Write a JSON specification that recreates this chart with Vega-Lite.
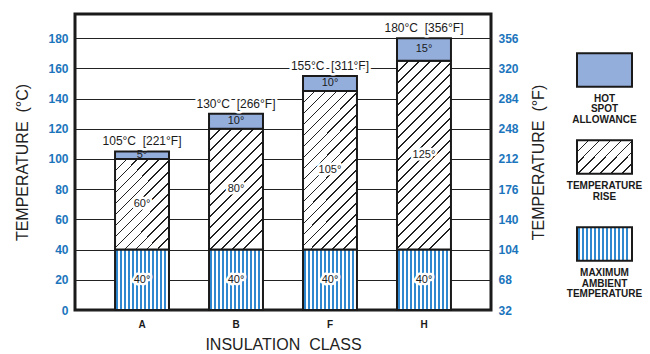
{
  "$schema": "https://vega.github.io/schema/vega-lite/v6.json",
  "background": "white",
  "padding": {"left": 13, "top": 12, "right": 5, "bottom": 0},
  "spacing": 18,
  "config": {
    "font": "Liberation Sans",
    "view": {"stroke": null},
    "text": {"font": "Liberation Sans", "color": "#1a1a1a"}
  },
  "datasets": {
    "segs": [
      {"cls": "A", "seg": "ambient", "lo": 0, "hi": 40, "label": "40°"},
      {"cls": "A", "seg": "rise", "lo": 40, "hi": 100, "label": "60°"},
      {"cls": "A", "seg": "hot", "lo": 100, "hi": 105, "label": "5°"},
      {"cls": "B", "seg": "ambient", "lo": 0, "hi": 40, "label": "40°"},
      {"cls": "B", "seg": "rise", "lo": 40, "hi": 120, "label": "80°"},
      {"cls": "B", "seg": "hot", "lo": 120, "hi": 130, "label": "10°"},
      {"cls": "F", "seg": "ambient", "lo": 0, "hi": 40, "label": "40°"},
      {"cls": "F", "seg": "rise", "lo": 40, "hi": 145, "label": "105°"},
      {"cls": "F", "seg": "hot", "lo": 145, "hi": 155, "label": "10°"},
      {"cls": "H", "seg": "ambient", "lo": 0, "hi": 40, "label": "40°"},
      {"cls": "H", "seg": "rise", "lo": 40, "hi": 165, "label": "125°"},
      {"cls": "H", "seg": "hot", "lo": 165, "hi": 180, "label": "15°"}
    ],
    "tops": [
      {"cls": "A", "total": 105, "label": "105°C\u00a0 [221°F]"},
      {"cls": "B", "total": 130, "label": "130°C\u00a0 [266°F]"},
      {"cls": "F", "total": 155, "label": "155°C\u00a0 [311°F]"},
      {"cls": "H", "total": 180, "label": "180°C\u00a0 [356°F]"}
    ],
    "legend": [
      {"item": "hot", "label": "HOT\nSPOT\nALLOWANCE"},
      {"item": "rise", "label": "TEMPERATURE\nRISE"},
      {"item": "ambient", "label": "MAXIMUM\nAMBIENT\nTEMPERATURE"}
    ]
  },
  "hconcat": [
    {
      "width": 416,
      "height": 296,
      "view": {"stroke": "#1a1a1a", "strokeWidth": 3},
      "resolve": {"axis": {"y": "independent"}},
      "layer": [
        {
          "data": {"name": "segs"},
          "transform": [{"filter": "datum.seg === 'ambient'"}],
          "mark": {"type": "rect", "stroke": "#1a1a1a", "strokeWidth": 2,
            "fill": {"gradient": "linear", "x1": 0, "y1": 0, "x2": 1, "y2": 0, "stops": [
              {"offset": 0.0185, "color": "#fff"}, {"offset": 0.0185, "color": "#3088d0"}, {"offset": 0.0482, "color": "#3088d0"}, {"offset": 0.0482, "color": "#fff"},
              {"offset": 0.0926, "color": "#fff"}, {"offset": 0.0926, "color": "#3088d0"}, {"offset": 0.1223, "color": "#3088d0"}, {"offset": 0.1223, "color": "#fff"},
              {"offset": 0.1668, "color": "#fff"}, {"offset": 0.1668, "color": "#3088d0"}, {"offset": 0.1965, "color": "#3088d0"}, {"offset": 0.1965, "color": "#fff"},
              {"offset": 0.2409, "color": "#fff"}, {"offset": 0.2409, "color": "#3088d0"}, {"offset": 0.2706, "color": "#3088d0"}, {"offset": 0.2706, "color": "#fff"},
              {"offset": 0.3151, "color": "#fff"}, {"offset": 0.3151, "color": "#3088d0"}, {"offset": 0.3448, "color": "#3088d0"}, {"offset": 0.3448, "color": "#fff"},
              {"offset": 0.3892, "color": "#fff"}, {"offset": 0.3892, "color": "#3088d0"}, {"offset": 0.4189, "color": "#3088d0"}, {"offset": 0.4189, "color": "#fff"},
              {"offset": 0.4633, "color": "#fff"}, {"offset": 0.4633, "color": "#3088d0"}, {"offset": 0.4930, "color": "#3088d0"}, {"offset": 0.4930, "color": "#fff"},
              {"offset": 0.5375, "color": "#fff"}, {"offset": 0.5375, "color": "#3088d0"}, {"offset": 0.5672, "color": "#3088d0"}, {"offset": 0.5672, "color": "#fff"},
              {"offset": 0.6116, "color": "#fff"}, {"offset": 0.6116, "color": "#3088d0"}, {"offset": 0.6413, "color": "#3088d0"}, {"offset": 0.6413, "color": "#fff"},
              {"offset": 0.6858, "color": "#fff"}, {"offset": 0.6858, "color": "#3088d0"}, {"offset": 0.7155, "color": "#3088d0"}, {"offset": 0.7155, "color": "#fff"},
              {"offset": 0.7599, "color": "#fff"}, {"offset": 0.7599, "color": "#3088d0"}, {"offset": 0.7896, "color": "#3088d0"}, {"offset": 0.7896, "color": "#fff"},
              {"offset": 0.8340, "color": "#fff"}, {"offset": 0.8340, "color": "#3088d0"}, {"offset": 0.8637, "color": "#3088d0"}, {"offset": 0.8637, "color": "#fff"},
              {"offset": 0.9082, "color": "#fff"}, {"offset": 0.9082, "color": "#3088d0"}, {"offset": 0.9379, "color": "#3088d0"}, {"offset": 0.9379, "color": "#fff"}
            ]}},
          "encoding": {
            "x": {"field": "cls", "type": "nominal", "sort": ["A", "B", "F", "H"],
              "scale": {"paddingInner": 0.426, "paddingOuter": 0.426},
              "axis": {"title": "INSULATION\u00a0 CLASS", "labelAngle": 0, "ticks": false, "domain": false,
                "labelFontWeight": "bold", "labelFontSize": 10, "labelColor": "#1a1a1a", "labelPadding": 9,
                "titleFontSize": 16, "titleFontWeight": "normal", "titleColor": "#222", "titlePadding": 7}},
            "y": {"field": "lo", "type": "quantitative", "scale": {"domain": [0, 196], "nice": false},
              "axis": {"orient": "left", "values": [0, 20, 40, 60, 80, 100, 120, 140, 160, 180],
                "title": "TEMPERATURE\u00a0 (°C)", "grid": true, "gridColor": "#222", "gridWidth": 1,
                "ticks": false, "domain": false, "labelColor": "#1b75bc", "labelFontWeight": "bold",
                "labelFontSize": 12, "labelPadding": 7, "titleFontSize": 16, "titleFontWeight": "normal",
                "titleColor": "#222", "titlePadding": 17}},
            "y2": {"field": "hi"}
          }
        },
        {
          "data": {"name": "segs"},
          "transform": [{"filter": "datum.seg === 'rise' && datum.cls === 'A'"}],
          "mark": {"type": "rect", "stroke": "#1a1a1a", "strokeWidth": 2,
            "fill": {"gradient": "linear", "x1": 0, "y1": 0, "x2": 0.7019, "y2": 1.1777, "stops": [
              {"offset": 0.0761, "color": "#fff"}, {"offset": 0.0761, "color": "#222"}, {"offset": 0.0865, "color": "#222"}, {"offset": 0.0865, "color": "#fff"},
              {"offset": 0.1521, "color": "#fff"}, {"offset": 0.1521, "color": "#222"}, {"offset": 0.1625, "color": "#222"}, {"offset": 0.1625, "color": "#fff"},
              {"offset": 0.2282, "color": "#fff"}, {"offset": 0.2282, "color": "#222"}, {"offset": 0.2386, "color": "#222"}, {"offset": 0.2386, "color": "#fff"},
              {"offset": 0.3043, "color": "#fff"}, {"offset": 0.3043, "color": "#222"}, {"offset": 0.3147, "color": "#222"}, {"offset": 0.3147, "color": "#fff"},
              {"offset": 0.3804, "color": "#fff"}, {"offset": 0.3804, "color": "#222"}, {"offset": 0.3908, "color": "#222"}, {"offset": 0.3908, "color": "#fff"},
              {"offset": 0.4564, "color": "#fff"}, {"offset": 0.4564, "color": "#222"}, {"offset": 0.4668, "color": "#222"}, {"offset": 0.4668, "color": "#fff"},
              {"offset": 0.5325, "color": "#fff"}, {"offset": 0.5325, "color": "#222"}, {"offset": 0.5429, "color": "#222"}, {"offset": 0.5429, "color": "#fff"},
              {"offset": 0.6086, "color": "#fff"}, {"offset": 0.6086, "color": "#222"}, {"offset": 0.6190, "color": "#222"}, {"offset": 0.6190, "color": "#fff"},
              {"offset": 0.6846, "color": "#fff"}, {"offset": 0.6846, "color": "#222"}, {"offset": 0.6950, "color": "#222"}, {"offset": 0.6950, "color": "#fff"},
              {"offset": 0.7607, "color": "#fff"}, {"offset": 0.7607, "color": "#222"}, {"offset": 0.7711, "color": "#222"}, {"offset": 0.7711, "color": "#fff"},
              {"offset": 0.8368, "color": "#fff"}, {"offset": 0.8368, "color": "#222"}, {"offset": 0.8472, "color": "#222"}, {"offset": 0.8472, "color": "#fff"},
              {"offset": 0.9129, "color": "#fff"}, {"offset": 0.9129, "color": "#222"}, {"offset": 0.9233, "color": "#222"}, {"offset": 0.9233, "color": "#fff"}
            ]}},
          "encoding": {
            "x": {"field": "cls", "type": "nominal", "sort": ["A", "B", "F", "H"]},
            "y": {"field": "lo", "type": "quantitative", "axis": null},
            "y2": {"field": "hi"}
          }
        },
        {
          "data": {"name": "segs"},
          "transform": [{"filter": "datum.seg === 'rise' && datum.cls === 'B'"}],
          "mark": {"type": "rect", "stroke": "#1a1a1a", "strokeWidth": 2,
            "fill": {"gradient": "linear", "x1": 0, "y1": 0, "x2": 0.5391, "y2": 1.2060, "stops": [
              {"offset": 0.0629, "color": "#fff"}, {"offset": 0.0629, "color": "#222"}, {"offset": 0.0715, "color": "#222"}, {"offset": 0.0715, "color": "#fff"},
              {"offset": 0.1259, "color": "#fff"}, {"offset": 0.1259, "color": "#222"}, {"offset": 0.1345, "color": "#222"}, {"offset": 0.1345, "color": "#fff"},
              {"offset": 0.1888, "color": "#fff"}, {"offset": 0.1888, "color": "#222"}, {"offset": 0.1974, "color": "#222"}, {"offset": 0.1974, "color": "#fff"},
              {"offset": 0.2517, "color": "#fff"}, {"offset": 0.2517, "color": "#222"}, {"offset": 0.2603, "color": "#222"}, {"offset": 0.2603, "color": "#fff"},
              {"offset": 0.3146, "color": "#fff"}, {"offset": 0.3146, "color": "#222"}, {"offset": 0.3232, "color": "#222"}, {"offset": 0.3232, "color": "#fff"},
              {"offset": 0.3776, "color": "#fff"}, {"offset": 0.3776, "color": "#222"}, {"offset": 0.3862, "color": "#222"}, {"offset": 0.3862, "color": "#fff"},
              {"offset": 0.4405, "color": "#fff"}, {"offset": 0.4405, "color": "#222"}, {"offset": 0.4491, "color": "#222"}, {"offset": 0.4491, "color": "#fff"},
              {"offset": 0.5034, "color": "#fff"}, {"offset": 0.5034, "color": "#222"}, {"offset": 0.5120, "color": "#222"}, {"offset": 0.5120, "color": "#fff"},
              {"offset": 0.5664, "color": "#fff"}, {"offset": 0.5664, "color": "#222"}, {"offset": 0.5750, "color": "#222"}, {"offset": 0.5750, "color": "#fff"},
              {"offset": 0.6293, "color": "#fff"}, {"offset": 0.6293, "color": "#222"}, {"offset": 0.6379, "color": "#222"}, {"offset": 0.6379, "color": "#fff"},
              {"offset": 0.6922, "color": "#fff"}, {"offset": 0.6922, "color": "#222"}, {"offset": 0.7008, "color": "#222"}, {"offset": 0.7008, "color": "#fff"},
              {"offset": 0.7551, "color": "#fff"}, {"offset": 0.7551, "color": "#222"}, {"offset": 0.7637, "color": "#222"}, {"offset": 0.7637, "color": "#fff"},
              {"offset": 0.8181, "color": "#fff"}, {"offset": 0.8181, "color": "#222"}, {"offset": 0.8267, "color": "#222"}, {"offset": 0.8267, "color": "#fff"},
              {"offset": 0.8810, "color": "#fff"}, {"offset": 0.8810, "color": "#222"}, {"offset": 0.8896, "color": "#222"}, {"offset": 0.8896, "color": "#fff"}
            ]}},
          "encoding": {
            "x": {"field": "cls", "type": "nominal", "sort": ["A", "B", "F", "H"]},
            "y": {"field": "lo", "type": "quantitative", "axis": null},
            "y2": {"field": "hi"}
          }
        },
        {
          "data": {"name": "segs"},
          "transform": [{"filter": "datum.seg === 'rise' && datum.cls === 'F'"}],
          "mark": {"type": "rect", "stroke": "#1a1a1a", "strokeWidth": 2,
            "fill": {"gradient": "linear", "x1": 0, "y1": 0, "x2": 0.4090, "y2": 1.2012, "stops": [
              {"offset": 0.0517, "color": "#fff"}, {"offset": 0.0517, "color": "#222"}, {"offset": 0.0588, "color": "#222"}, {"offset": 0.0588, "color": "#fff"},
              {"offset": 0.1035, "color": "#fff"}, {"offset": 0.1035, "color": "#222"}, {"offset": 0.1106, "color": "#222"}, {"offset": 0.1106, "color": "#fff"},
              {"offset": 0.1552, "color": "#fff"}, {"offset": 0.1552, "color": "#222"}, {"offset": 0.1623, "color": "#222"}, {"offset": 0.1623, "color": "#fff"},
              {"offset": 0.2070, "color": "#fff"}, {"offset": 0.2070, "color": "#222"}, {"offset": 0.2141, "color": "#222"}, {"offset": 0.2141, "color": "#fff"},
              {"offset": 0.2587, "color": "#fff"}, {"offset": 0.2587, "color": "#222"}, {"offset": 0.2658, "color": "#222"}, {"offset": 0.2658, "color": "#fff"},
              {"offset": 0.3104, "color": "#fff"}, {"offset": 0.3104, "color": "#222"}, {"offset": 0.3175, "color": "#222"}, {"offset": 0.3175, "color": "#fff"},
              {"offset": 0.3622, "color": "#fff"}, {"offset": 0.3622, "color": "#222"}, {"offset": 0.3693, "color": "#222"}, {"offset": 0.3693, "color": "#fff"},
              {"offset": 0.4139, "color": "#fff"}, {"offset": 0.4139, "color": "#222"}, {"offset": 0.4210, "color": "#222"}, {"offset": 0.4210, "color": "#fff"},
              {"offset": 0.4657, "color": "#fff"}, {"offset": 0.4657, "color": "#222"}, {"offset": 0.4728, "color": "#222"}, {"offset": 0.4728, "color": "#fff"},
              {"offset": 0.5174, "color": "#fff"}, {"offset": 0.5174, "color": "#222"}, {"offset": 0.5245, "color": "#222"}, {"offset": 0.5245, "color": "#fff"},
              {"offset": 0.5691, "color": "#fff"}, {"offset": 0.5691, "color": "#222"}, {"offset": 0.5762, "color": "#222"}, {"offset": 0.5762, "color": "#fff"},
              {"offset": 0.6209, "color": "#fff"}, {"offset": 0.6209, "color": "#222"}, {"offset": 0.6280, "color": "#222"}, {"offset": 0.6280, "color": "#fff"},
              {"offset": 0.6726, "color": "#fff"}, {"offset": 0.6726, "color": "#222"}, {"offset": 0.6797, "color": "#222"}, {"offset": 0.6797, "color": "#fff"},
              {"offset": 0.7244, "color": "#fff"}, {"offset": 0.7244, "color": "#222"}, {"offset": 0.7315, "color": "#222"}, {"offset": 0.7315, "color": "#fff"},
              {"offset": 0.7761, "color": "#fff"}, {"offset": 0.7761, "color": "#222"}, {"offset": 0.7832, "color": "#222"}, {"offset": 0.7832, "color": "#fff"},
              {"offset": 0.8278, "color": "#fff"}, {"offset": 0.8278, "color": "#222"}, {"offset": 0.8349, "color": "#222"}, {"offset": 0.8349, "color": "#fff"},
              {"offset": 0.8796, "color": "#fff"}, {"offset": 0.8796, "color": "#222"}, {"offset": 0.8867, "color": "#222"}, {"offset": 0.8867, "color": "#fff"},
              {"offset": 0.9313, "color": "#fff"}, {"offset": 0.9313, "color": "#222"}, {"offset": 0.9384, "color": "#222"}, {"offset": 0.9384, "color": "#fff"}
            ]}},
          "encoding": {
            "x": {"field": "cls", "type": "nominal", "sort": ["A", "B", "F", "H"]},
            "y": {"field": "lo", "type": "quantitative", "axis": null},
            "y2": {"field": "hi"}
          }
        },
        {
          "data": {"name": "segs"},
          "transform": [{"filter": "datum.seg === 'rise' && datum.cls === 'H'"}],
          "mark": {"type": "rect", "stroke": "#1a1a1a", "strokeWidth": 2,
            "fill": {"gradient": "linear", "x1": 0, "y1": 0, "x2": 0.3400, "y2": 1.1888, "stops": [
              {"offset": 0.0453, "color": "#fff"}, {"offset": 0.0453, "color": "#222"}, {"offset": 0.0515, "color": "#222"}, {"offset": 0.0515, "color": "#fff"},
              {"offset": 0.0906, "color": "#fff"}, {"offset": 0.0906, "color": "#222"}, {"offset": 0.0968, "color": "#222"}, {"offset": 0.0968, "color": "#fff"},
              {"offset": 0.1359, "color": "#fff"}, {"offset": 0.1359, "color": "#222"}, {"offset": 0.1421, "color": "#222"}, {"offset": 0.1421, "color": "#fff"},
              {"offset": 0.1812, "color": "#fff"}, {"offset": 0.1812, "color": "#222"}, {"offset": 0.1874, "color": "#222"}, {"offset": 0.1874, "color": "#fff"},
              {"offset": 0.2265, "color": "#fff"}, {"offset": 0.2265, "color": "#222"}, {"offset": 0.2327, "color": "#222"}, {"offset": 0.2327, "color": "#fff"},
              {"offset": 0.2718, "color": "#fff"}, {"offset": 0.2718, "color": "#222"}, {"offset": 0.2780, "color": "#222"}, {"offset": 0.2780, "color": "#fff"},
              {"offset": 0.3171, "color": "#fff"}, {"offset": 0.3171, "color": "#222"}, {"offset": 0.3233, "color": "#222"}, {"offset": 0.3233, "color": "#fff"},
              {"offset": 0.3624, "color": "#fff"}, {"offset": 0.3624, "color": "#222"}, {"offset": 0.3686, "color": "#222"}, {"offset": 0.3686, "color": "#fff"},
              {"offset": 0.4077, "color": "#fff"}, {"offset": 0.4077, "color": "#222"}, {"offset": 0.4139, "color": "#222"}, {"offset": 0.4139, "color": "#fff"},
              {"offset": 0.4530, "color": "#fff"}, {"offset": 0.4530, "color": "#222"}, {"offset": 0.4592, "color": "#222"}, {"offset": 0.4592, "color": "#fff"},
              {"offset": 0.4983, "color": "#fff"}, {"offset": 0.4983, "color": "#222"}, {"offset": 0.5045, "color": "#222"}, {"offset": 0.5045, "color": "#fff"},
              {"offset": 0.5436, "color": "#fff"}, {"offset": 0.5436, "color": "#222"}, {"offset": 0.5498, "color": "#222"}, {"offset": 0.5498, "color": "#fff"},
              {"offset": 0.5889, "color": "#fff"}, {"offset": 0.5889, "color": "#222"}, {"offset": 0.5951, "color": "#222"}, {"offset": 0.5951, "color": "#fff"},
              {"offset": 0.6342, "color": "#fff"}, {"offset": 0.6342, "color": "#222"}, {"offset": 0.6404, "color": "#222"}, {"offset": 0.6404, "color": "#fff"},
              {"offset": 0.6795, "color": "#fff"}, {"offset": 0.6795, "color": "#222"}, {"offset": 0.6857, "color": "#222"}, {"offset": 0.6857, "color": "#fff"},
              {"offset": 0.7248, "color": "#fff"}, {"offset": 0.7248, "color": "#222"}, {"offset": 0.7310, "color": "#222"}, {"offset": 0.7310, "color": "#fff"},
              {"offset": 0.7701, "color": "#fff"}, {"offset": 0.7701, "color": "#222"}, {"offset": 0.7763, "color": "#222"}, {"offset": 0.7763, "color": "#fff"},
              {"offset": 0.8154, "color": "#fff"}, {"offset": 0.8154, "color": "#222"}, {"offset": 0.8216, "color": "#222"}, {"offset": 0.8216, "color": "#fff"},
              {"offset": 0.8607, "color": "#fff"}, {"offset": 0.8607, "color": "#222"}, {"offset": 0.8669, "color": "#222"}, {"offset": 0.8669, "color": "#fff"},
              {"offset": 0.9060, "color": "#fff"}, {"offset": 0.9060, "color": "#222"}, {"offset": 0.9122, "color": "#222"}, {"offset": 0.9122, "color": "#fff"}
            ]}},
          "encoding": {
            "x": {"field": "cls", "type": "nominal", "sort": ["A", "B", "F", "H"]},
            "y": {"field": "lo", "type": "quantitative", "axis": null},
            "y2": {"field": "hi"}
          }
        },
        {
          "data": {"name": "segs"},
          "transform": [{"filter": "datum.seg === 'hot'"}],
          "mark": {"type": "rect", "fill": "#94aedc", "stroke": "#1a1a1a", "strokeWidth": 2},
          "encoding": {
            "x": {"field": "cls", "type": "nominal", "sort": ["A", "B", "F", "H"]},
            "y": {"field": "lo", "type": "quantitative", "axis": null},
            "y2": {"field": "hi"}
          }
        },
        {
          "data": {"name": "segs"},
          "transform": [{"filter": "datum.seg !== 'hot'"}, {"calculate": "(datum.lo + datum.hi) / 2", "as": "mid"}],
          "mark": {"type": "text", "fontSize": 11, "stroke": "white", "strokeWidth": 5, "fill": "white", "strokeJoin": "round"},
          "encoding": {
            "x": {"field": "cls", "type": "nominal", "sort": ["A", "B", "F", "H"]},
            "y": {"field": "mid", "type": "quantitative", "axis": null},
            "text": {"field": "label"}
          }
        },
        {
          "data": {"name": "segs"},
          "transform": [{"calculate": "(datum.lo + datum.hi) / 2", "as": "mid"}],
          "mark": {"type": "text", "fontSize": 11, "color": "#1a1a1a"},
          "encoding": {
            "x": {"field": "cls", "type": "nominal", "sort": ["A", "B", "F", "H"]},
            "y": {"field": "mid", "type": "quantitative", "axis": null},
            "text": {"field": "label"}
          }
        },
        {
          "data": {"name": "tops"},
          "mark": {"type": "text", "fontSize": 12, "baseline": "bottom", "dy": -3, "stroke": "white", "strokeWidth": 5, "fill": "white", "strokeJoin": "round"},
          "encoding": {
            "x": {"field": "cls", "type": "nominal", "sort": ["A", "B", "F", "H"]},
            "y": {"field": "total", "type": "quantitative", "axis": null},
            "text": {"field": "label"}
          }
        },
        {
          "data": {"name": "tops"},
          "mark": {"type": "text", "fontSize": 12, "baseline": "bottom", "dy": -3, "color": "#1a1a1a"},
          "encoding": {
            "x": {"field": "cls", "type": "nominal", "sort": ["A", "B", "F", "H"]},
            "y": {"field": "total", "type": "quantitative",
              "axis": {"orient": "right", "values": [0, 20, 40, 60, 80, 100, 120, 140, 160, 180],
                "labelExpr": "format(datum.value * 1.8 + 32, 'd')",
                "title": "TEMPERATURE\u00a0 (°F)", "titleAngle": -90, "titleBaseline": "top", "grid": false,
                "ticks": false, "domain": false, "labelColor": "#1b75bc", "labelFontWeight": "bold",
                "labelFontSize": 12, "labelPadding": 7, "titleFontSize": 16, "titleFontWeight": "normal",
                "titleColor": "#222", "titlePadding": 12}},
            "text": {"field": "label"}
          }
        }
      ]
    },
    {
      "width": 55,
      "height": 286,
      "data": {"name": "legend"},
      "encoding": {
        "y": {"field": "item", "type": "nominal", "sort": ["hot", "rise", "ambient"],
          "scale": {"paddingInner": 0.614, "paddingOuter": 0.45}, "axis": null}
      },
      "layer": [
        {
          "transform": [{"filter": "datum.item === 'hot'"}],
          "mark": {"type": "rect", "fill": "#94aedc", "stroke": "#1a1a1a", "strokeWidth": 2}
        },
        {
          "transform": [{"filter": "datum.item === 'rise'"}],
          "mark": {"type": "rect", "stroke": "#1a1a1a", "strokeWidth": 2,
            "fill": {"gradient": "linear", "x1": 0, "y1": 0, "x2": 1.1765, "y2": 0.7059, "stops": [
              {"offset": 0.125, "color": "#fff"}, {"offset": 0.125, "color": "#222"}, {"offset": 0.142, "color": "#222"}, {"offset": 0.142, "color": "#fff"},
              {"offset": 0.250, "color": "#fff"}, {"offset": 0.250, "color": "#222"}, {"offset": 0.267, "color": "#222"}, {"offset": 0.267, "color": "#fff"},
              {"offset": 0.375, "color": "#fff"}, {"offset": 0.375, "color": "#222"}, {"offset": 0.392, "color": "#222"}, {"offset": 0.392, "color": "#fff"},
              {"offset": 0.500, "color": "#fff"}, {"offset": 0.500, "color": "#222"}, {"offset": 0.517, "color": "#222"}, {"offset": 0.517, "color": "#fff"},
              {"offset": 0.625, "color": "#fff"}, {"offset": 0.625, "color": "#222"}, {"offset": 0.642, "color": "#222"}, {"offset": 0.642, "color": "#fff"},
              {"offset": 0.750, "color": "#fff"}, {"offset": 0.750, "color": "#222"}, {"offset": 0.767, "color": "#222"}, {"offset": 0.767, "color": "#fff"},
              {"offset": 0.875, "color": "#fff"}, {"offset": 0.875, "color": "#222"}, {"offset": 0.892, "color": "#222"}, {"offset": 0.892, "color": "#fff"}
            ]}}
        },
        {
          "transform": [{"filter": "datum.item === 'ambient'"}],
          "mark": {"type": "rect", "stroke": "#1a1a1a", "strokeWidth": 2,
            "fill": {"gradient": "linear", "x1": 0, "y1": 0, "x2": 1, "y2": 0, "stops": [
              {"offset": 0.0270, "color": "#fff"}, {"offset": 0.0270, "color": "#3088d0"}, {"offset": 0.0560, "color": "#3088d0"}, {"offset": 0.0560, "color": "#fff"},
              {"offset": 0.0997, "color": "#fff"}, {"offset": 0.0997, "color": "#3088d0"}, {"offset": 0.1287, "color": "#3088d0"}, {"offset": 0.1287, "color": "#fff"},
              {"offset": 0.1725, "color": "#fff"}, {"offset": 0.1725, "color": "#3088d0"}, {"offset": 0.2015, "color": "#3088d0"}, {"offset": 0.2015, "color": "#fff"},
              {"offset": 0.2452, "color": "#fff"}, {"offset": 0.2452, "color": "#3088d0"}, {"offset": 0.2742, "color": "#3088d0"}, {"offset": 0.2742, "color": "#fff"},
              {"offset": 0.3179, "color": "#fff"}, {"offset": 0.3179, "color": "#3088d0"}, {"offset": 0.3469, "color": "#3088d0"}, {"offset": 0.3469, "color": "#fff"},
              {"offset": 0.3906, "color": "#fff"}, {"offset": 0.3906, "color": "#3088d0"}, {"offset": 0.4196, "color": "#3088d0"}, {"offset": 0.4196, "color": "#fff"},
              {"offset": 0.4634, "color": "#fff"}, {"offset": 0.4634, "color": "#3088d0"}, {"offset": 0.4924, "color": "#3088d0"}, {"offset": 0.4924, "color": "#fff"},
              {"offset": 0.5361, "color": "#fff"}, {"offset": 0.5361, "color": "#3088d0"}, {"offset": 0.5651, "color": "#3088d0"}, {"offset": 0.5651, "color": "#fff"},
              {"offset": 0.6088, "color": "#fff"}, {"offset": 0.6088, "color": "#3088d0"}, {"offset": 0.6378, "color": "#3088d0"}, {"offset": 0.6378, "color": "#fff"},
              {"offset": 0.6815, "color": "#fff"}, {"offset": 0.6815, "color": "#3088d0"}, {"offset": 0.7105, "color": "#3088d0"}, {"offset": 0.7105, "color": "#fff"},
              {"offset": 0.7543, "color": "#fff"}, {"offset": 0.7543, "color": "#3088d0"}, {"offset": 0.7833, "color": "#3088d0"}, {"offset": 0.7833, "color": "#fff"},
              {"offset": 0.8270, "color": "#fff"}, {"offset": 0.8270, "color": "#3088d0"}, {"offset": 0.8560, "color": "#3088d0"}, {"offset": 0.8560, "color": "#fff"},
              {"offset": 0.8997, "color": "#fff"}, {"offset": 0.8997, "color": "#3088d0"}, {"offset": 0.9287, "color": "#3088d0"}, {"offset": 0.9287, "color": "#fff"}
            ]}}
        },
        {
          "mark": {"type": "text", "baseline": "top", "dy": 24, "lineBreak": "\n", "fontWeight": "bold", "fontSize": 10, "lineHeight": 10.5, "color": "#1a1a1a"},
          "encoding": {"text": {"field": "label"}}
        }
      ]
    }
  ]
}
